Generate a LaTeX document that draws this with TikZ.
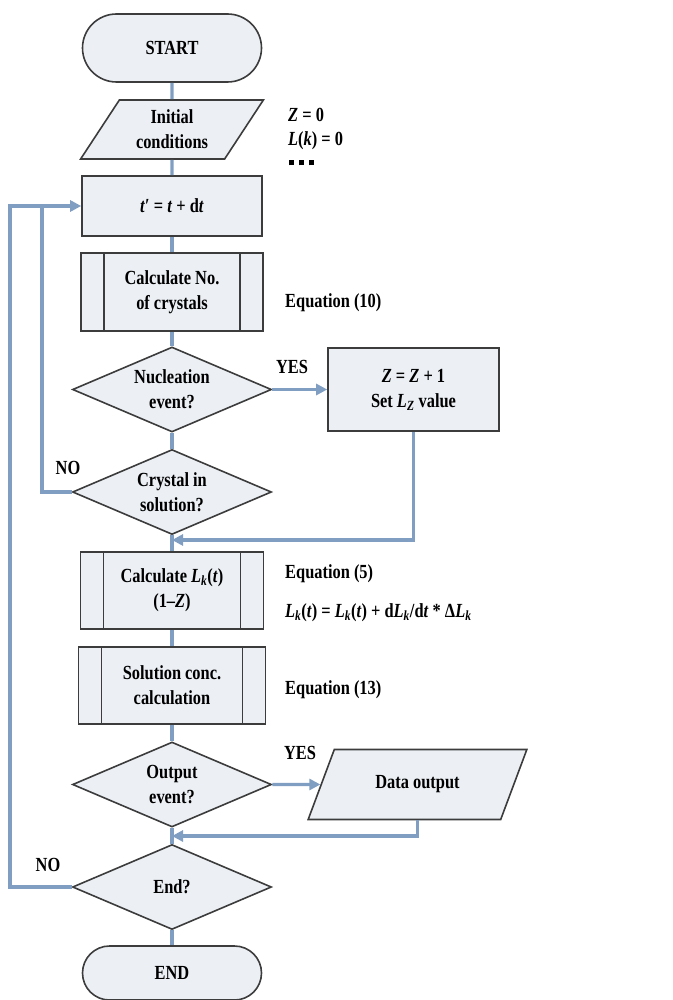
\documentclass[tikz,border=0pt]{standalone}
\usepackage{fontspec}
\setmainfont{Liberation Serif}[FakeStretch=0.82]
\definecolor{lineblue}{RGB}{128,158,194}
\definecolor{boxfill}{RGB}{236,240,245}
\definecolor{edgegray}{RGB}{60,60,60}
\usetikzlibrary{shapes,arrows.meta,positioning,calc}
\newcommand{\Lk}{\textit{L}\textsubscript{\textit{k}}}

\begin{document}
\begin{tikzpicture}[x=1pt,y=-1pt,
  font=\fontsize{20}{25}\selectfont\bfseries,
  base/.style={draw=edgegray,fill=boxfill,line width=1.6pt,align=center,inner sep=2pt},
  term/.style={base,rounded rectangle,minimum width=183pt},
  io/.style={base,trapezium,trapezium left angle=57,trapezium right angle=123,
             trapezium stretches=true},
  proc/.style={base,rectangle},
  sub/.style={proc,path picture={
      \draw[edgegray,line width=1.6pt]
        ([xshift=23pt]path picture bounding box.north west) -- ([xshift=23pt]path picture bounding box.south west)
        ([xshift=-23pt]path picture bounding box.north east) -- ([xshift=-23pt]path picture bounding box.south east);}},
  dec/.style={base,diamond,aspect=2.34,minimum width=199pt,minimum height=85pt,inner sep=0pt},
  note/.style={anchor=west,inner sep=0pt},
  flow/.style={draw=lineblue,line width=3.2pt},
  arr/.style={flow,-{Triangle[length=11pt,width=11pt]}}]
  \useasboundingbox (0,0) rectangle (672,1000);
  % blocos
  \node[term,minimum height=68pt] (start) at (172,48) {START};
  \node[io,minimum width=183pt,minimum height=59pt] (init) at (172,129.5) {Initial\\conditions};
  \node[proc,minimum width=180pt,minimum height=60pt] (tp) at (172,206) {\textit{t}′ = \textit{t} + d\textit{t}};
  \node[sub,minimum width=182pt,minimum height=78pt] (calcn) at (172,292) {Calculate No.\\of crystals};
  \node[dec] (nucl) at (172,389.5) {Nucleation\\event?};
  \node[proc,minimum width=171pt,minimum height=83pt] (zbox) at (413.5,389.5)
    {\textit{Z} = \textit{Z} + 1\\Set \textit{L}\textsubscript{\textit{Z}} value};
  \node[dec] (cryst) at (172,492) {Crystal in\\solution?};
  \node[sub,minimum width=183pt,minimum height=77pt] (calcl) at (172,590.5) {Calculate \Lk(\textit{t})\\(1–\textit{Z})};
  \node[sub,minimum width=187pt,minimum height=77pt] (solc) at (172,685.5) {Solution conc.\\calculation};
  \node[dec] (outp) at (172,784.5) {Output\\event?};
  \node[io,minimum width=219pt,minimum height=70pt] (dout) at (417.5,784.5) {Data output};
  \node[dec] (endq) at (172,887) {End?};
  \node[term,minimum height=54pt] (stop) at (172,973) {END};
  % notas
  \node[note] (nz) at (288,115) {\textit{Z} = 0};
  \node[note] (nl) at (288,141) {\textit{L}(\textit{k}) = 0};
  \node[note] (nd) at (289,163) {\rule{5pt}{5pt}\hspace{5pt}\rule{5pt}{5pt}\hspace{5pt}\rule{5pt}{5pt}};
  \node[note] (eq10) at (285,303) {Equation (10)};
  \node[note] (eq5) at (285,574) {Equation (5)};
  \node[note] (eqlk) at (285,613) {\Lk(\textit{t}) = \Lk(\textit{t}) + d\Lk/d\textit{t} * Δ\Lk};
  \node[note] (eq13) at (285,690) {Equation (13)};
  \node (yes1) at (292,367) {YES};
  \node (no1) at (68,468) {NO};
  \node (yes2) at (300,753) {YES};
  \node (no2) at (48,865) {NO};
  % ligacoes
  \coordinate (j1) at (172,540);
  \coordinate (j2) at (172,836);
  \coordinate (lp1) at (42,206);
  \coordinate (lp2) at (10,206);
  \draw[flow] (start) -- (init);
  \draw[flow] (init) -- (tp);
  \draw[flow] (tp) -- (calcn);
  \draw[flow] (calcn) -- (nucl);
  \draw[flow] (nucl) -- (cryst);
  \draw[flow] (cryst) -- (calcl);
  \draw[flow] (calcl) -- (solc);
  \draw[flow] (solc) -- (outp);
  \draw[flow] (outp) -- (endq);
  \draw[flow] (endq) -- (stop);
  \draw[arr] (nucl.east) -- (zbox.west);
  \draw[arr] (zbox.south) |- (j1);
  \draw[arr] (outp.east) -- (dout.west);
  \draw[arr] (dout.south) |- (j2);
  \draw[flow] (cryst.west) -| (lp1);
  \draw[arr] (endq.west) -| (lp2) -- (tp.west);
\end{tikzpicture}
\end{document}
